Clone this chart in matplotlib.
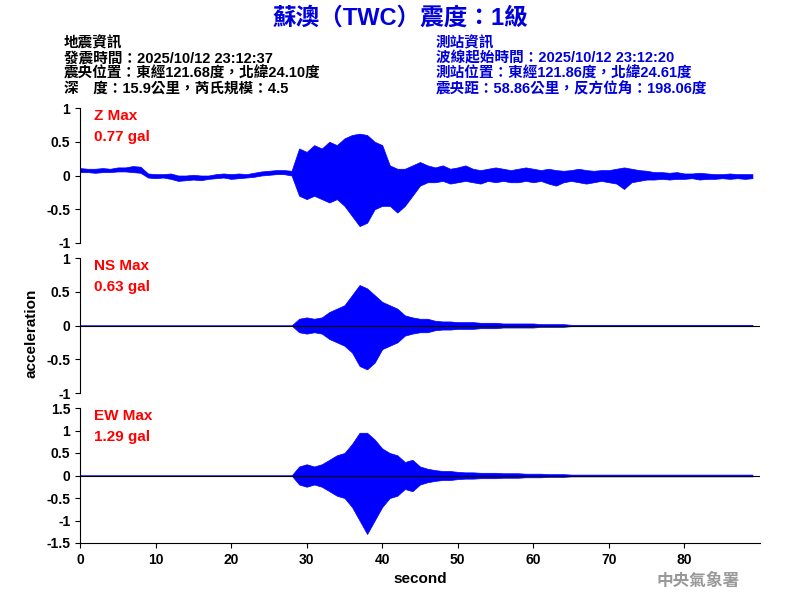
import matplotlib
matplotlib.use("Agg")
import matplotlib.pyplot as plt
import numpy as np

plt.rcParams['font.family'] = ['Liberation Sans', 'Noto Sans CJK TC', 'DejaVu Sans']
plt.rcParams['font.weight'] = 'bold'

t = np.arange(90)
z_up = [0.11,0.1,0.1,0.11,0.1,0.12,0.12, 0.14,0.13, 0.03,0.02,0.02,0.03, 0.0,0.0,0.01,0.0,0.0,
        0.02,0.03,0.02,0.03,0.02,0.04, 0.06,0.07,0.08,0.08,0.07, 0.4,0.35,0.45,0.4, 0.5,0.45,0.55,
        0.6,0.62,0.6, 0.5,0.45, 0.15,0.1, 0.1,0.15, 0.2,0.15,
        0.12,0.15,0.1,0.12,0.15,0.1,0.08,0.1,0.12,0.1,0.08,0.1,0.12,
        0.1,0.08,0.1,0.08,0.07,0.08,0.1,0.08,0.07,0.08,
        0.08,0.1,0.12,0.1,0.08,0.07,0.05,0.05,0.04,0.05,0.03,0.03,0.04,0.03,0.02,0.02,0.03,0.02,0.02,0.02]
z_lo = [0.05,0.05,0.04,0.05,0.05,0.06,0.06, 0.05,0.04, -0.03,-0.04,-0.03,-0.05, -0.08,-0.07,-0.06,-0.07,-0.05,
        -0.04,-0.03,-0.05,-0.04,-0.03,-0.02, 0.0,0.01,0.02,0.02,0.0, -0.3,-0.35,-0.3,-0.35, -0.4,-0.35,-0.45,
        -0.6,-0.75,-0.7, -0.5,-0.45, -0.45,-0.55, -0.45,-0.3, -0.15,-0.1,
        -0.1,-0.08,-0.12,-0.1,-0.08,-0.1,-0.12,-0.08,-0.1,-0.08,-0.1,-0.1,-0.08,
        -0.1,-0.08,-0.12,-0.15,-0.1,-0.08,-0.1,-0.12,-0.1,-0.08,
        -0.1,-0.12,-0.2,-0.1,-0.08,-0.06,-0.06,-0.05,-0.06,-0.05,-0.05,-0.04,-0.06,-0.05,-0.05,-0.04,-0.05,-0.04,-0.05,-0.04]
ns_up = [0]*29 + [0.1,0.12,0.1,0.12, 0.2,0.25,0.3, 0.45,0.6,0.55, 0.45,0.35, 0.3,0.25, 0.15,0.12,0.1,0.1,
        0.07,0.06,0.06,0.05,0.05,0.05,0.04,0.04, 0.04,0.03,0.03,0.03,0.03,0.03,0.02,0.02,0.02,0.02] + [0.01]*25
ns_lo = [0]*29 + [0.1,0.12,0.1,0.12, 0.2,0.25,0.3, 0.4,0.6,0.65, 0.55,0.35, 0.3,0.25, 0.15,0.12,0.1,0.1,
        0.07,0.06,0.06,0.05,0.05,0.05,0.04,0.04, 0.04,0.03,0.03,0.03,0.03,0.03,0.02,0.02,0.02,0.02] + [0.01]*25
ew_up = [0]*29 + [0.2,0.25,0.2,0.25, 0.35,0.45,0.5, 0.7,0.95,0.95, 0.8,0.6, 0.5,0.45, 0.3,0.35,0.2,0.15,
        0.12,0.1,0.1,0.08,0.07,0.07,0.06,0.06, 0.06,0.05,0.05,0.05,0.04,0.04,0.04,0.03,0.03,0.03] + [0.02]*25
ew_lo = [0]*29 + [0.2,0.25,0.2,0.25, 0.35,0.45,0.5, 0.7,1.0,1.3, 1.0,0.7, 0.5,0.45, 0.3,0.35,0.2,0.15,
        0.12,0.1,0.1,0.08,0.07,0.07,0.06,0.06, 0.06,0.05,0.05,0.05,0.04,0.04,0.04,0.03,0.03,0.03] + [0.02]*25

panels = [("Z Max", "0.77 gal", z_up, z_lo, (-1, 1), [-1,-0.5,0,0.5,1], 0.595, False),
          ("NS Max", "0.63 gal", ns_up, [-v for v in ns_lo], (-1, 1), [-1,-0.5,0,0.5,1], 0.345, True),
          ("EW Max", "1.29 gal", ew_up, [-v for v in ew_lo], (-1.5, 1.5), [-1.5,-1,-0.5,0,0.5,1,1.5], 0.095, True)]

fig = plt.figure(figsize=(8, 6), dpi=100)
for i, (name, val, up, lo, yl, yt, bot, zline) in enumerate(panels):
    ax = fig.add_axes([0.1, bot, 0.85, 0.225])
    if zline:
        ax.axhline(0, color='black', lw=0.8)
    ax.fill_between(t, lo, up, color='blue', lw=0.5, edgecolor='blue')
    ax.set_xlim(0, 90)
    ax.set_ylim(*yl)
    ax.set_yticks(yt)
    ax.set_yticklabels([f"{v:g}" for v in yt])
    for s in ['top', 'right']:
        ax.spines[s].set_visible(False)
    if i < 2:
        ax.spines['bottom'].set_visible(False)
        ax.set_xticks([])
    else:
        ax.set_xticks(range(0, 90, 10))
        ax.set_xlabel("second", fontsize=11, fontweight='bold')
    ax.text(0.02, 0.99, name, transform=ax.transAxes, color='red', fontsize=11, va='top', fontweight='bold')
    ax.text(0.02, 0.84, val, transform=ax.transAxes, color='red', fontsize=11, va='top', fontweight='bold')
    ax.tick_params(labelsize=10)

fig.text(0.04, 0.445, "acceleration", rotation=90, ha='center', va='center', fontsize=11, fontweight='bold')
fig.text(0.5, 0.97, "蘇澳（TWC）震度：1級", color='#0000dd', fontsize=17, fontweight='bold', ha='center', va='center')
left = ["地震資訊", "發震時間：2025/10/12 23:12:37", "震央位置：東經121.68度，北緯24.10度", "深　度：15.9公里，芮氏規模：4.5"]
right = ["測站資訊", "波線起始時間：2025/10/12 23:12:20", "測站位置：東經121.86度，北緯24.61度", "震央距：58.86公里，反方位角：198.06度"]
for k, (a, b) in enumerate(zip(left, right)):
    y = 0.928 - k * 0.0255
    fig.text(0.08, y, a, fontsize=10.5, va='center', fontweight='bold')
    fig.text(0.545, y, b, fontsize=10.5, va='center', color='#0000dd', fontweight='bold')
fig.text(0.82, 0.032, "中央氣象署", color='#999999', fontsize=12, fontweight='bold', va='center')
fig.savefig("out.png")
